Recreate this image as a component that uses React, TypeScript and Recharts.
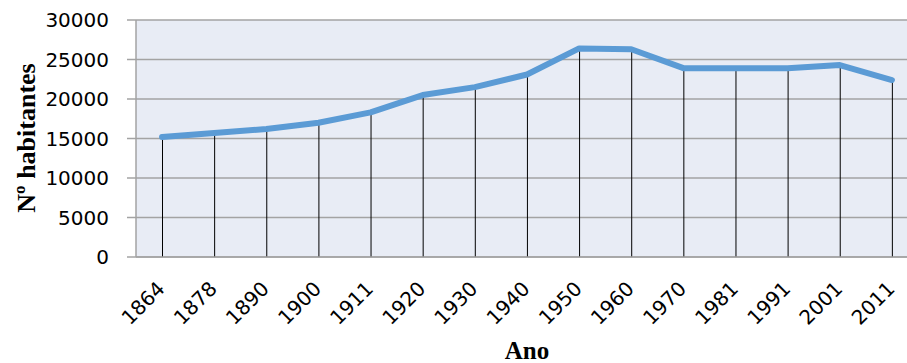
import { Bar, CartesianGrid, ComposedChart, Line, XAxis, YAxis } from "recharts"

const YEARS = ["1864", "1878", "1890", "1900", "1911", "1920", "1930", "1940", "1950", "1960", "1970", "1981", "1991", "2001", "2011"]
const POPULATION = [15200, 15700, 16200, 17000, 18300, 20500, 21500, 23100, 26400, 26300, 23900, 23900, 23900, 24300, 22400]
const Y_TICKS = [0, 5000, 10000, 15000, 20000, 25000, 30000]

const data = YEARS.map((year, i) => ({ year, pop: POPULATION[i] }))

const TICK_FONT = "'DejaVu Sans', sans-serif"
const TITLE_FONT = "'Liberation Serif', 'Times New Roman', serif"
const GRID = "#a3a3a3"

function YearTick({ x, y, payload }: any) {
  return (
    <g transform={`translate(${x + 4},${y + 33})`}>
      <text
        transform="rotate(-45)"
        textAnchor="end"
        fontFamily={TICK_FONT}
        fontSize={20}
        fill="#000"
      >
        {payload.value}
      </text>
    </g>
  )
}

export default function App() {
  return (
    <div style={{ position: "absolute", left: 0, top: 0, width: 907, height: 363, overflow: "hidden", background: "#fff" }}>
      <ComposedChart
        width={930}
        height={363}
        data={data}
        margin={{ top: 20, right: 12, left: 0, bottom: 0 }}
        barCategoryGap={0}
      >
        <CartesianGrid vertical={false} stroke={GRID} strokeWidth={1.5} fill="#e8ecf5" />
        <XAxis
          dataKey="year"
          interval={0}
          height={106}
          tickLine={false}
          tickSize={0}
          tickMargin={0}
          axisLine={{ stroke: GRID, strokeWidth: 1.5 }}
          tick={<YearTick />}
          label={{
            value: "Ano",
            position: "insideBottom",
            offset: 4,
            style: { fontFamily: TITLE_FONT, fontWeight: "bold", fontSize: 25, fill: "#000" },
          }}
        />
        <YAxis
          width={136}
          domain={[0, 30000]}
          ticks={Y_TICKS}
          interval={0}
          tickSize={9}
          tickMargin={18}
          tickLine={{ stroke: GRID, strokeWidth: 1.5 }}
          axisLine={{ stroke: GRID, strokeWidth: 1.5 }}
          tick={{ fontFamily: TICK_FONT, fontSize: 20, fill: "#000" }}
          label={{
            content: () => (
              <text
                x={35}
                y={138}
                transform="rotate(-90 35 138)"
                textAnchor="middle"
                fontFamily={TITLE_FONT}
                fontWeight="bold"
                fontSize={26}
                fill="#000"
              >
                Nº habitantes
              </text>
            ),
          }}
        />
        {/* thin drop lines from each point down to the axis */}
        <Bar dataKey="pop" fill="#000" barSize={1} isAnimationActive={false} />
        <Line
          dataKey="pop"
          type="linear"
          stroke="#5b9bd5"
          strokeWidth={6}
          strokeLinecap="round"
          strokeLinejoin="round"
          dot={false}
          activeDot={false}
          isAnimationActive={false}
        />
      </ComposedChart>
    </div>
  )
}
